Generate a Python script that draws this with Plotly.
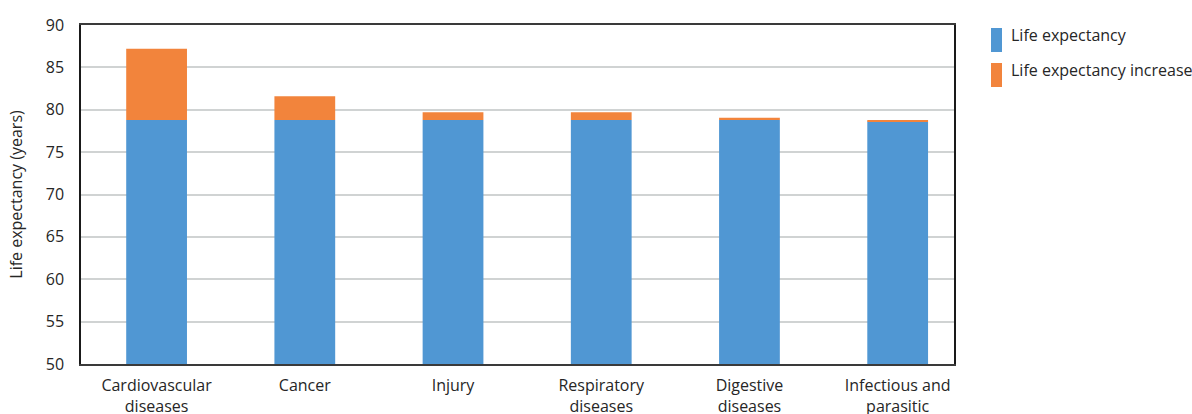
import plotly.graph_objects as go

# Causes of death: life expectancy and the gain if the cause were eliminated
categories = [
    "Cardiovascular<br>diseases",
    "Cancer",
    "Injury",
    "Respiratory<br>diseases",
    "Digestive<br>diseases",
    "Infectious and<br>parasitic",
]
life_expectancy = [78.8, 78.8, 78.8, 78.8, 78.8, 78.6]
life_expectancy_increase = [8.4, 2.8, 0.9, 0.9, 0.25, 0.2]

series_names = ["Life expectancy", "Life expectancy increase"]
colors = ["#5097d3", "#f2843c"]
y_ticks = [50, 55, 60, 65, 70, 75, 80, 85, 90]

FONT = "Open Sans, Segoe UI, sans-serif"
TEXT = "#262626"

# plot area in pixels
L, R, T, B = 81, 954, 25, 364
W, H = R - L, B - T

fig = go.Figure()
fig.add_bar(x=categories, y=life_expectancy,
            marker=dict(color=colors[0], line=dict(width=0)),
            name=series_names[0], width=0.41)
fig.add_bar(x=categories, y=life_expectancy_increase,
            base=life_expectancy,
            marker=dict(color=colors[1], line=dict(width=0)),
            name=series_names[1], width=0.41)

fig.update_layout(
    width=1192, height=414,
    margin=dict(l=L, r=1192 - R, t=T, b=414 - B),
    paper_bgcolor="white", plot_bgcolor="white",
    barmode="overlay", showlegend=False,
    font=dict(family=FONT, size=16, color=TEXT),
)

fig.update_xaxes(
    type="category", range=[-0.51, 5.38], automargin=False,
    showline=True, linecolor="#3a3a3a", linewidth=1.5, mirror=True,
    showgrid=False, ticks="", ticklabelstandoff=6,
    tickfont=dict(family=FONT, size=16, color=TEXT),
)
fig.update_yaxes(
    range=[50, 90], tickvals=y_ticks, automargin=False,
    showline=True, linecolor="#1a1a1a", linewidth=1.5, mirror=True,
    showgrid=True, gridcolor="#d0d3d3", gridwidth=2, zeroline=False,
    ticks="", ticklabelstandoff=12,
    tickfont=dict(family=FONT, size=16, color=TEXT),
    title=dict(text="Life expectancy (years)", standoff=19,
               font=dict(family=FONT, size=16, color=TEXT)),
)

# Legend drawn as colour swatches with labels to the right of the plot
def px_x(x):
    return (x - L) / W

def px_y(y):
    return (B - y) / H

legend_y = [40, 75]
for name, color, yc in zip(series_names, colors, legend_y):
    fig.add_shape(type="rect", xref="paper", yref="paper",
                  x0=px_x(991), x1=px_x(1002),
                  y0=px_y(yc + 12), y1=px_y(yc - 12),
                  fillcolor=color, line=dict(width=0), layer="above")
    fig.add_annotation(text=name, xref="paper", yref="paper",
                       x=px_x(1009), y=px_y(yc - 5),
                       xanchor="left", yanchor="middle", showarrow=False,
                       font=dict(family=FONT, size=16, color=TEXT))

fig.write_html("out.html")
